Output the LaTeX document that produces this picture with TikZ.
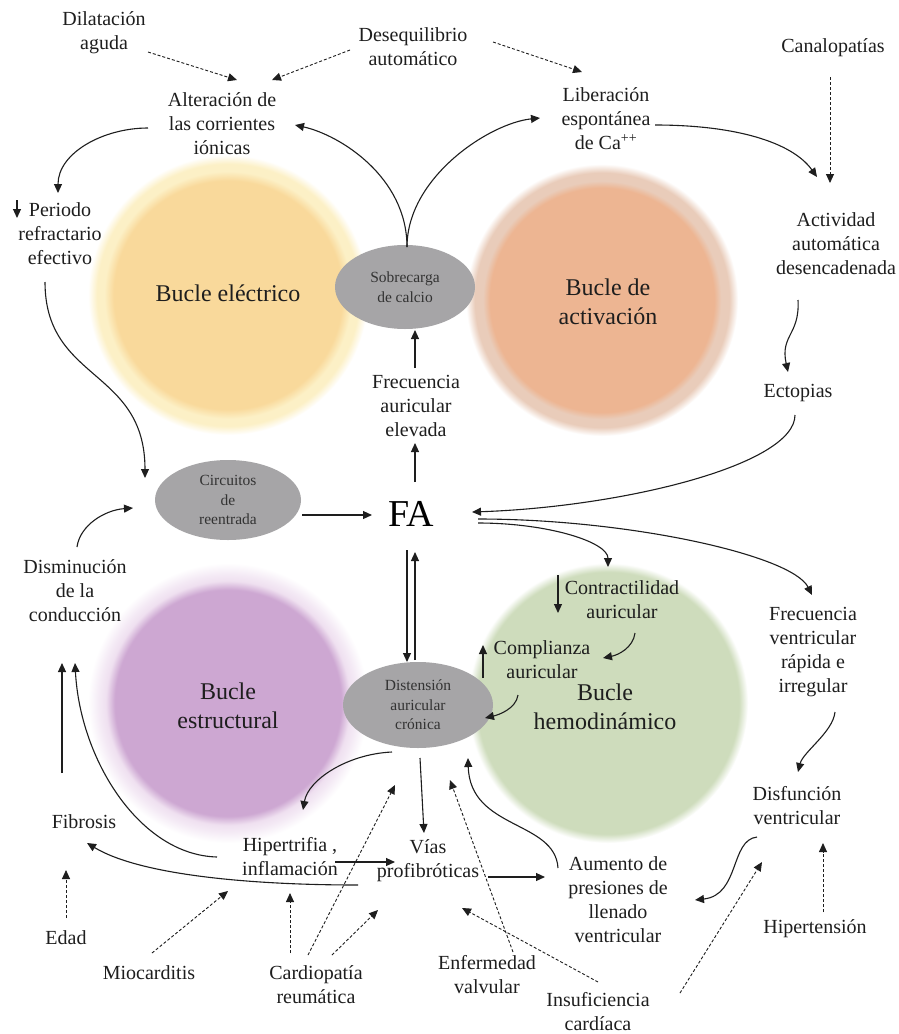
\documentclass[tikz,border=0pt]{standalone}
\usepackage{fontspec}
\setmainfont{Liberation Serif}
\usetikzlibrary{arrows.meta,shapes.geometric}

\definecolor{txt}{HTML}{1E1E1E}
\definecolor{ovalgray}{HTML}{A6A5A7}
\definecolor{ycore}{HTML}{F9D99B}
\definecolor{yglow}{HTML}{FCF0C6}
\definecolor{ocore}{HTML}{EDB592}
\definecolor{oring}{HTML}{E9CCBA}
\definecolor{pcore}{HTML}{CDA7D2}
\definecolor{ppale}{HTML}{EFE0F0}
\definecolor{phaze}{HTML}{F4EAF5}
\definecolor{gcore}{HTML}{CEDCBC}

% soft-edged discs for the four loops (25bp = outer radius)
\pgfdeclareradialshading{elecshade}{\pgfpoint{0bp}{0bp}}{color(0bp)=(ycore); color(20.4bp)=(ycore); color(22.1bp)=(yglow); color(23.4bp)=(yglow); color(25bp)=(white); color(50bp)=(white)}
\pgfdeclareradialshading{actshade}{\pgfpoint{0bp}{0bp}}{color(0bp)=(ocore); color(20.6bp)=(ocore); color(21.9bp)=(oring); color(23.4bp)=(oring); color(25bp)=(white); color(50bp)=(white)}
\pgfdeclareradialshading{strshade}{\pgfpoint{0bp}{0bp}}{color(0bp)=(pcore); color(20.2bp)=(pcore); color(21.8bp)=(ppale); color(23bp)=(phaze); color(25bp)=(white); color(50bp)=(white)}
\pgfdeclareradialshading{hemshade}{\pgfpoint{0bp}{0bp}}{color(0bp)=(gcore); color(23.4bp)=(gcore); color(25bp)=(white); color(50bp)=(white)}

\tikzset{
  lbl/.style={font=\fontsize{20}{24}\selectfont, text=txt, align=center, inner sep=0pt},
  big/.style={font=\fontsize{24}{29}\selectfont, text=txt, align=center, inner sep=0pt},
  oval/.style={ellipse, fill=ovalgray, inner sep=0pt, text=black!80,
               font=\fontsize{15.5}{19.5}\selectfont, align=center},
  arr/.style={-{Triangle[length=9pt,width=8pt]}, line width=1.1pt, draw=txt},
  darr/.style={arr, line width=0.9pt, dash pattern=on 3pt off 2pt},
}

\begin{document}
\begin{tikzpicture}[x=1pt,y=-1pt]
\useasboundingbox (0,0) rectangle (898,1034);
\fill[white] (0,0) rectangle (898,1034);

% loops
\shade[shading=elecshade] (228,295) circle (140);
\shade[shading=actshade] (602,300) circle (136);
\shade[shading=strshade] (228,703) circle (140);
\shade[shading=hemshade] (608,703) circle (140);

\node[big] (be) at (228,293) {Bucle eléctrico};
\node[big] (ba) at (608,302) {Bucle de\\activación};
\node[big] (bs) at (228,706) {Bucle\\estructural};
\node[big] (bh) at (605,707) {Bucle\\hemodinámico};

% grey ovals
\node[oval, minimum width=140pt, minimum height=84pt] (sob) at (405,287) {Sobrecarga\\de calcio};
\node[oval, minimum width=146pt, minimum height=80pt] (cir) at (228,500) {Circuitos\\de\\reentrada};
\node[oval, minimum width=150pt, minimum height=86pt] (dac) at (418,705) {Distensión\\auricular\\crónica};

% central node
\node[inner sep=0pt, text=black, font=\fontsize{38}{40}\selectfont] (fa) at (411,514) {FA};

% labels
\node[lbl] (dil) at (104,33) {Dilatación\\aguda};
\node[lbl] (des) at (413,47) {Desequilibrio\\automático};
\node[lbl] (alt) at (222,124) {Alteración de\\las corrientes\\iónicas};
\node[lbl] (per) at (60,234) {Periodo\\refractario\\efectivo};
\node[lbl] (lib) at (606,119) {Liberación\\espontánea\\de Ca\textsuperscript{++}};
\node[lbl] (can) at (833,48) {Canalopatías};
\node[lbl] (act) at (836,244) {Actividad\\automática\\desencadenada};
\node[lbl] (ect) at (798,393) {Ectopias};
\node[lbl] (fra) at (416,406) {Frecuencia\\auricular\\elevada};
\node[lbl] (dis) at (75,591) {Disminución\\de la\\conducción};
\node[lbl] (con) at (622,600) {Contractilidad\\auricular};
\node[lbl] (com) at (542,660) {Complianza\\auricular};
\node[lbl] (frv) at (813,652) {Frecuencia\\ventricular\\rápida e\\irregular};
\node[lbl] (dfv) at (797,806) {Disfunción\\ventricular};
\node[lbl] (hta) at (815,929) {Hipertensión};
\node[lbl] (aum) at (618,900) {Aumento de\\presiones de\\llenado\\ventricular};
\node[lbl] (ins) at (598,1012) {Insuficiencia\\cardíaca};
\node[lbl] (env) at (487,975) {Enfermedad\\valvular};
\node[lbl] (vias) at (428,861) {Vías\\profibróticas};
\node[lbl] (hip) at (290,857) {Hipertrifia ,\\inflamación};
\node[lbl] (fib) at (84,822) {Fibrosis};
\node[lbl] (edad) at (66,938) {Edad};
\node[lbl] (mio) at (149,973) {Miocarditis};
\node[lbl] (car) at (316,985) {Cardiopatía\\reumática};

% small up/down markers inside labels
\draw[arr] ([shift={(-43,-34)}]per.center) -- ([shift={(-43,-16)}]per.center);
\draw[arr] ([shift={(-64,-25)}]con.center) -- ([shift={(-64,13)}]con.center);
\draw[arr] ([shift={(-59,18)}]com.center) -- ([shift={(-59,-15)}]com.center);

% upper part
\draw[darr] ([shift={(44,19)}]dil.center) -- ([shift={(15,-44)}]alt.center);
\draw[darr] ([shift={(-63,3)}]des.center) -- ([shift={(50,-44)}]alt.center);
\draw[darr] ([shift={(80,-5)}]des.center) -- ([shift={(-24,-47)}]lib.center);
\draw[arr] ([shift={(-74,4)}]alt.center) .. controls +(-45,0) and +(0,-40) .. ([shift={(-2,-41)}]per.center);
\draw[arr] ([shift={(2,-40)}]sob.center) .. controls +(0,-70) and +(45,10) .. ([shift={(73,1)}]alt.center);
\draw[arr] ([shift={(2,-40)}]sob.center) .. controls +(0,-70) and +(-50,5) .. ([shift={(-66,-1)}]lib.center);
\draw[arr] ([shift={(49,6)}]lib.center) .. controls +(80,0) and +(-25,-35) .. ([shift={(-19,-67)}]act.center);
\draw[darr] ([shift={(-3,29)}]can.center) -- ([shift={(-6,-61)}]act.center);
\draw[arr] ([shift={(-38,56)}]act.center) .. controls +(2,35) and +(-8,-37) .. ([shift={(-10,-21)}]ect.center);
\draw[arr] ([shift={(-3,22)}]ect.center) .. controls +(0,50) and +(150,-5) .. ([shift={(61,-2)}]fa.center);

% around FA
\draw[arr] ([shift={(-1,-38)}]fra.center) -- ([shift={(10,43)}]sob.center);
\draw[arr] ([shift={(4,-32)}]fa.center) -- ([shift={(-1,37)}]fra.center);
\draw[arr] ([shift={(74,15)}]cir.center) -- ([shift={(-39,1)}]fa.center);
\draw[arr] ([shift={(-15,48)}]per.center) .. controls +(0,100) and +(0,-110) .. ([shift={(-83,-22)}]cir.center);
\draw[arr] ([shift={(2,-44)}]dis.center) .. controls +(3,-22) and +(-28,2) .. ([shift={(-95,8)}]cir.center);
\draw[arr] ([shift={(67,9)}]fa.center) .. controls +(70,0) and +(0,-25) .. ([shift={(-14,-33)}]con.center);
\draw[arr] ([shift={(67,5)}]fa.center) .. controls +(150,0) and +(-20,-40) .. ([shift={(-1,-57)}]frv.center);
\draw[arr] ([shift={(-4,36)}]fa.center) -- ([shift={(-11,-43)}]dac.center);
\draw[arr] ([shift={(-3,-45)}]dac.center) -- ([shift={(4,38)}]fa.center);

% haemodynamic loop
\draw[arr] ([shift={(13,33)}]con.center) .. controls +(-2,15) and +(15,-3) .. ([shift={(61,-2)}]com.center);
\draw[arr] ([shift={(-24,35)}]com.center) .. controls +(-2,14) and +(13,-3) .. ([shift={(67,13)}]dac.center);
\draw[arr] ([shift={(22,60)}]frv.center) .. controls +(-2,20) and +(5,-20) .. ([shift={(1,-34)}]dfv.center);
\draw[arr] ([shift={(-40,31)}]dfv.center) .. controls +(-27,3) and +(45,-5) .. ([shift={(77,0)}]aum.center);
\draw[arr] ([shift={(-60,-32)}]aum.center) .. controls +(-3,-48) and +(2,72) .. ([shift={(50,53)}]dac.center);

% structural loop
\draw[arr] ([shift={(-26,47)}]dac.center) .. controls +(-45,2) and +(5,-30) .. ([shift={(13,-47)}]hip.center);
\draw[arr] ([shift={(2,53)}]dac.center) -- ([shift={(-4,-28)}]vias.center);
\draw[arr] ([shift={(45,5)}]hip.center) -- ([shift={(-33,1)}]vias.center);
\draw[arr] ([shift={(60,16)}]vias.center) -- ([shift={(-73,-23)}]aum.center);
\draw[arr] ([shift={(-73,0)}]hip.center) .. controls +(-77,-2) and +(5,97) .. ([shift={(0,72)}]dis.center);
\draw[arr] ([shift={(-22,-49)}]fib.center) -- ([shift={(-13,72)}]dis.center);
\draw[arr] ([shift={(-70,24)}]vias.center) .. controls +(-108,0) and +(53,32) .. ([shift={(3,21)}]fib.center);

% predisposing factors
\draw[darr] ([shift={(0,-20)}]edad.center) -- ([shift={(-18,48)}]fib.center);
\draw[darr] ([shift={(3,-20)}]mio.center) -- ([shift={(-62,34)}]hip.center);
\draw[darr] ([shift={(-26,-32)}]car.center) -- ([shift={(0,36)}]hip.center);
\draw[darr] ([shift={(-8,-30)}]car.center) -- ([shift={(-23,80)}]dac.center);
\draw[darr] ([shift={(16,-30)}]car.center) -- ([shift={(-50,49)}]vias.center);
\draw[darr] ([shift={(26,-23)}]env.center) -- ([shift={(32,75)}]dac.center);
\draw[darr] ([shift={(0,-30)}]ins.center) -- ([shift={(34,47)}]vias.center);
\draw[darr] ([shift={(82,-19)}]ins.center) -- ([shift={(-35,56)}]dfv.center);
\draw[darr] ([shift={(8,-17)}]hta.center) -- ([shift={(26,37)}]dfv.center);
\end{tikzpicture}
\end{document}
